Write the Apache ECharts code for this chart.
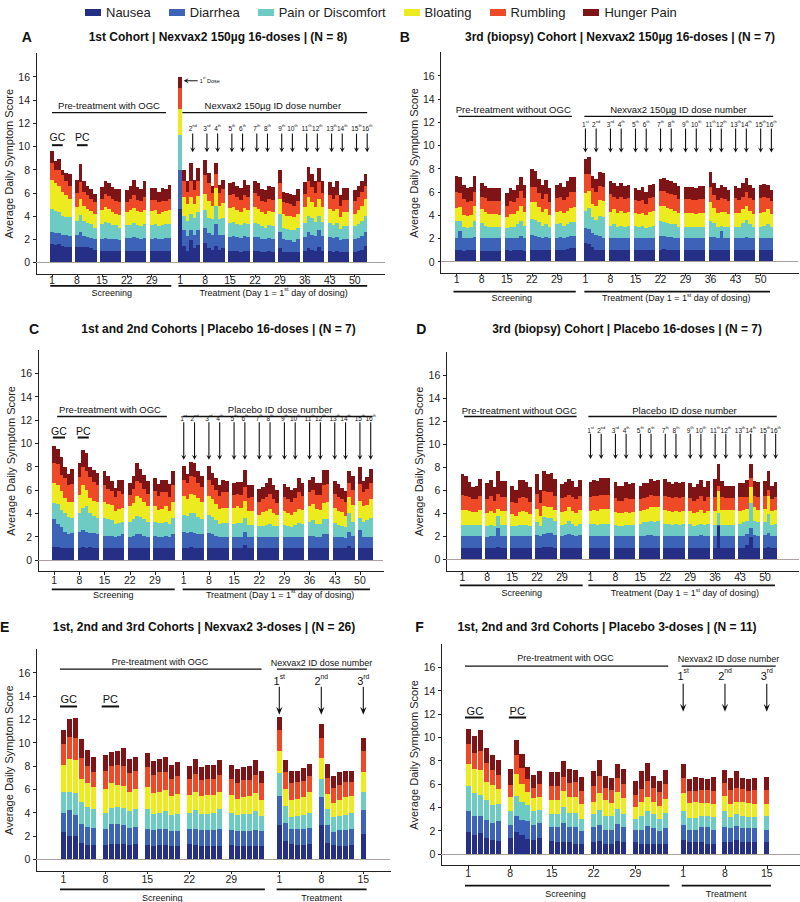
<!DOCTYPE html>
<html>
<head>
<meta charset="utf-8">
<script src="https://cdn.jsdelivr.net/npm/echarts@6/dist/echarts.min.js"></script>
<style>
html, body { margin: 0; padding: 0; background: #fff; }
#chart { width: 800px; height: 902px; }
/* bars drawn over each other: keep their edges on whole pixels so no colour bleeds at the sides */
#chart svg path { shape-rendering: crispEdges; }
/* annotation strokes and arrow heads stay smooth */
#chart svg path[stroke="#101010"], #chart svg path[fill="#101010"] { shape-rendering: geometricPrecision; }
</style>
</head>
<body>
<div id="chart"></div>
<script>
const FF = '"Liberation Sans", Arial, Helvetica, sans-serif';
const INK = '#101010';

const symptoms = ['Nausea', 'Diarrhea', 'Pain or Discomfort', 'Bloating', 'Rumbling', 'Hunger Pain'];
const colors = ['#262f86', '#3c63b8', '#6ecbc4', '#eceb1f', '#ee4a28', '#7f1416'];

// every array holds the upper edge of that symptom's band (running score),
// screening days 1-6, 8-13, 15-20, 22-27, 29-34 first, then the treatment days (7th days have no data)

// A: 1st cohort, Nexvax2 16 doses
const aNausea = [1.6,1.5,1.6,1.4,1.3,1.3, 1.3,1.3,1.3,1.3,1.2,1.1, 1.0,1.0,1.0,1.0,1.0,1.0, 1.0,1.0,1.0,1.0,1.0,1.0, 1.0,1.0,1.0,1.0,1.0,1.0,
  4.6,1.4,1.0,1.9,1.2,1.5, 1.7,1.2,1.1,1.4,1.1,1.2, 1.0,1.0,1.0,0.9,1.0,1.0, 1.0,1.0,0.9,0.9,1.0,0.9, 1.2,0.9,0.9,0.9,0.9,0.9, 1.0,1.2,1.1,1.0,1.3,1.0, 1.0,0.9,1.0,0.9,0.9,0.9, 0.9,1.0,1.1,1.4];
const aDiarrhea = [2.6,2.5,2.5,2.4,2.4,2.3, 2.4,2.6,2.3,2.2,2.1,2.0, 2.0,2.1,2.0,2.0,2.0,1.9, 2.1,2.1,2.2,2.1,2.0,2.1, 2.0,2.1,2.0,2.0,2.1,2.1,
  8.0,2.8,2.3,2.8,2.4,2.8, 3.0,2.5,2.4,3.3,2.4,2.4, 2.2,2.3,2.2,2.1,2.3,2.2, 2.2,2.2,2.0,2.0,2.1,2.0, 2.6,2.0,1.9,1.9,1.8,2.0, 2.2,2.6,2.4,2.3,2.8,2.3, 2.2,2.1,2.2,1.9,2.0,2.0, 2.0,2.1,2.3,2.6];
const aPain = [4.6,4.4,4.3,4.0,3.9,3.9, 3.6,4.1,3.6,3.4,3.3,3.0, 3.3,3.5,3.4,3.2,3.2,3.0, 3.2,3.2,3.4,3.2,3.1,3.3, 3.2,3.3,3.1,3.2,3.3,3.3,
  11.0,4.0,3.6,4.2,3.8,4.3, 4.5,3.8,3.7,4.9,3.7,3.8, 3.4,3.5,3.3,3.2,3.4,3.3, 3.4,3.3,3.1,3.0,3.2,3.1, 4.2,3.0,2.9,2.8,2.8,3.0, 3.4,4.0,3.8,3.5,4.0,3.5, 3.4,3.2,3.4,2.9,3.1,3.1, 3.1,3.3,3.6,4.0];
const aBloating = [7.1,6.8,6.6,6.1,5.8,5.5, 4.8,5.5,4.9,4.6,4.4,4.2, 4.5,4.8,4.6,4.3,4.2,4.1, 4.3,4.5,4.7,4.4,4.3,4.5, 4.4,4.5,4.2,4.3,4.4,4.5,
  13.2,5.6,5.0,5.6,5.0,5.7, 5.9,5.3,4.9,6.4,4.9,5.1, 4.7,4.8,4.5,4.3,4.7,4.5, 4.8,4.6,4.3,4.2,4.4,4.3, 5.5,4.2,4.0,4.0,3.9,4.2, 4.8,5.6,5.2,4.8,5.5,4.8, 4.6,4.4,4.6,3.9,4.3,4.3, 4.2,4.5,4.9,5.5];
const aRumbling = [8.6,8.0,8.0,7.5,7.0,6.6, 6.0,6.9,6.1,5.8,5.5,5.2, 5.5,5.9,5.7,5.5,5.3,5.2, 5.2,5.5,5.8,5.4,5.3,5.6, 5.4,5.4,5.2,5.3,5.3,5.5,
  15.0,7.0,6.1,7.0,6.2,7.0, 7.5,6.8,6.0,7.6,6.0,6.3, 5.8,5.9,5.6,5.4,5.8,5.6, 6.0,5.7,5.3,5.2,5.5,5.4, 6.8,5.2,5.1,5.0,4.9,5.3, 5.9,7.0,6.5,6.0,6.9,6.0, 5.8,5.5,5.8,4.9,5.4,5.4, 5.3,5.6,6.1,6.6];
const aHunger = [9.6,8.7,8.9,8.0,7.7,7.6, 7.1,8.5,7.0,6.6,6.3,5.9, 6.5,7.0,6.8,6.5,6.3,6.3, 6.2,6.6,7.1,6.5,6.3,7.0, 6.4,6.4,6.1,6.4,6.3,6.7,
  16.0,8.0,7.0,8.6,7.1,8.1, 8.8,7.7,6.6,8.6,6.7,7.1, 6.8,6.9,6.6,6.4,7.1,6.7, 7.0,6.8,6.3,6.2,6.6,6.5, 8.0,6.1,6.0,5.9,5.8,6.3, 6.9,8.2,7.6,7.0,8.1,7.0, 6.9,6.5,7.0,5.8,6.4,6.4, 6.2,6.6,7.0,7.6];

// B: 3rd (biopsy) cohort, Nexvax2 16 doses
const bNausea = [1.0,1.0,0.9,1.0,1.0,1.0, 0.9,0.9,0.9,0.9,0.9,0.9, 1.0,0.9,1.0,1.0,1.0,0.9, 1.0,1.0,1.0,1.0,1.0,1.0, 1.0,1.0,1.0,1.1,1.2,1.2,
  1.6,1.5,1.3,1.0,1.0,1.0, 1.0,1.0,1.0,1.0,1.0,1.0, 1.0,1.0,1.0,1.0,1.0,1.0, 1.0,1.1,1.0,1.0,1.0,1.0, 1.0,1.0,1.0,1.0,1.0,1.0, 1.0,1.0,1.0,1.0,1.0,1.0, 1.0,1.0,1.0,1.0,1.0,1.0, 1.0,1.0,1.0,1.0];
const bDiarrhea = [2.0,2.6,2.0,2.0,2.0,2.1, 2.0,2.0,2.0,2.0,2.0,2.0, 2.0,2.0,2.0,2.0,2.2,2.0, 2.3,2.2,2.1,2.0,2.1,2.0, 2.0,2.1,2.0,2.1,2.2,2.2,
  2.9,2.8,2.5,2.3,2.2,2.0, 2.0,2.0,2.0,2.0,2.0,2.0, 2.0,2.0,2.0,2.0,2.0,2.0, 2.2,2.2,2.1,2.1,2.0,2.0, 2.0,2.0,2.0,2.0,2.0,2.0, 2.1,2.1,2.0,2.6,2.0,2.0, 2.0,2.0,2.0,2.1,2.0,2.0, 2.0,2.0,2.0,2.0];
const bPain = [3.5,3.5,3.0,2.9,3.0,3.5, 3.3,3.1,3.0,3.0,3.0,3.0, 2.9,3.0,3.0,3.2,3.5,3.1, 3.7,3.6,3.4,3.1,3.2,3.0, 3.2,3.3,3.1,3.2,3.4,3.4,
  4.4,4.6,3.8,3.6,3.9,3.8, 3.1,3.2,3.0,3.1,3.0,3.1, 3.1,3.0,3.1,2.9,3.0,3.1, 3.5,3.4,3.3,3.2,3.2,3.0, 3.0,3.0,3.0,3.0,3.0,3.0, 3.5,3.3,3.0,3.1,3.0,3.0, 3.0,3.0,3.3,3.6,3.2,3.0, 3.0,3.1,3.2,3.0];
const bBloating = [4.6,4.7,4.0,3.9,4.0,4.8, 4.5,4.3,4.1,4.1,4.1,4.0, 3.8,4.1,4.1,4.4,4.8,4.3, 5.1,5.1,4.7,4.3,4.5,4.0, 4.3,4.4,4.2,4.4,4.6,4.7,
  5.9,6.1,5.0,4.8,5.3,5.2, 4.3,4.5,4.2,4.4,4.2,4.3, 4.2,4.1,4.2,4.0,4.3,4.4, 4.8,4.8,4.6,4.5,4.4,4.2, 4.2,4.2,4.2,4.1,4.2,4.2, 5.1,4.6,4.2,4.3,4.3,4.1, 4.2,4.2,4.5,4.8,4.4,4.1, 4.2,4.3,4.5,4.1];
const bRumbling = [6.0,5.9,5.4,5.1,5.2,6.0, 5.6,5.5,5.2,5.2,5.2,5.2, 4.8,5.2,5.1,5.5,6.1,5.5, 6.4,6.4,5.9,5.4,5.8,5.1, 5.5,5.6,5.3,5.6,6.0,6.0,
  7.5,7.5,6.3,6.0,6.5,6.4, 5.8,5.6,5.4,5.6,5.4,5.5, 5.3,5.2,5.3,5.0,5.5,5.6, 6.1,6.1,5.9,5.8,5.7,5.4, 5.4,5.4,5.3,5.3,5.4,5.4, 6.4,5.7,5.3,5.5,5.4,5.2, 5.5,5.3,5.6,6.0,5.5,5.3, 5.5,5.6,5.5,5.2];
const bHunger = [7.4,7.3,6.6,6.3,6.4,7.4, 6.8,6.5,6.3,6.3,6.3,6.3, 5.9,6.3,6.2,6.6,7.3,6.6, 8.0,7.8,7.1,6.6,7.0,6.3, 6.6,6.8,6.4,6.9,7.3,7.3,
  8.8,9.0,7.4,7.1,7.7,7.6, 6.9,6.8,6.5,6.8,6.5,6.6, 6.3,6.2,6.4,6.0,6.6,6.7, 7.1,7.2,7.0,6.9,6.8,6.5, 6.4,6.4,6.4,6.3,6.5,6.5, 7.7,6.8,6.3,6.6,6.4,6.2, 6.5,6.3,6.8,7.2,6.6,6.3, 6.6,6.7,6.6,6.2];

// C: 1st and 2nd cohorts, placebo 16 doses
const cNausea = [1.1,1.1,1.0,1.0,1.0,1.0, 1.0,1.1,1.0,1.1,1.0,1.0, 1.0,1.0,1.0,1.0,1.0,1.0, 1.0,1.0,1.0,1.0,1.0,1.0, 1.0,1.0,1.0,1.0,1.0,1.0,
  1.0,1.0,1.1,1.0,1.0,1.0, 1.0,1.0,1.0,1.0,1.0,1.0, 1.0,1.0,1.0,1.3,1.0,1.0, 1.0,1.0,1.0,1.0,1.0,1.0, 1.0,1.0,1.0,1.0,1.0,1.0, 1.0,1.0,1.0,1.0,1.0,1.0, 1.0,1.0,1.0,1.0,1.2,1.0, 1.0,1.0,1.0,1.0];
const cDiarrhea = [3.5,3.1,2.8,2.4,2.2,2.3, 2.4,2.6,2.4,2.3,2.3,2.2, 2.1,2.1,2.1,2.0,2.1,2.2, 2.0,2.1,2.2,2.2,2.1,2.0, 2.1,2.0,2.0,2.1,2.0,2.2,
  2.4,2.3,2.4,2.3,2.2,2.2, 2.3,2.2,2.1,2.0,2.0,2.0, 2.0,2.0,2.0,2.4,2.0,2.0, 2.0,2.0,2.0,2.0,2.0,2.0, 2.0,2.0,2.0,2.0,2.0,2.0, 2.1,2.1,2.0,2.0,2.2,2.2, 2.0,2.0,2.0,1.9,2.4,2.1, 2.6,2.0,2.0,2.0];
const cPain = [4.9,4.8,4.3,4.0,3.7,3.6, 4.0,4.5,4.6,4.0,3.8,3.6, 3.6,3.5,3.4,3.1,3.2,3.3, 3.3,3.5,3.8,3.7,3.5,3.3, 3.3,3.2,3.2,3.3,3.1,3.6,
  3.9,3.8,4.0,4.0,3.7,3.5, 3.9,3.7,3.4,3.1,3.2,3.2, 3.1,3.2,3.2,3.6,3.0,3.0, 2.9,2.9,3.0,3.1,2.9,2.9, 3.0,2.9,2.8,3.0,3.2,3.1, 3.3,3.4,3.1,3.1,3.5,3.5, 3.2,3.0,2.9,2.8,4.0,3.3, 3.6,3.3,3.4,3.6];
const cBloating = [6.6,6.4,5.9,5.3,5.0,5.0, 5.6,6.4,6.0,5.3,5.1,5.0, 5.0,4.8,4.7,4.2,4.4,4.5, 4.6,4.9,5.5,5.3,5.0,4.6, 4.6,4.3,4.4,4.6,4.2,5.0,
  5.5,5.2,5.7,5.6,5.3,5.0, 5.5,5.2,4.8,4.4,4.5,4.5, 4.5,4.6,4.5,5.1,4.2,4.2, 3.9,4.1,4.2,4.4,4.0,3.9, 4.2,4.0,3.9,4.1,4.4,4.3, 4.6,4.8,4.4,4.3,4.9,5.0, 4.5,4.2,4.1,3.8,5.4,4.7, 5.1,4.6,4.7,5.2];
const cRumbling = [8.3,8.2,7.3,7.0,6.4,6.5, 7.1,8.0,7.6,7.1,6.7,6.4, 6.4,6.1,5.9,5.4,5.9,5.7, 5.6,6.1,6.8,6.6,6.1,5.7, 5.9,5.5,5.8,5.8,5.4,6.4,
  6.9,6.6,7.2,7.1,6.6,6.3, 6.9,6.4,6.0,5.5,5.8,5.8, 5.6,5.7,5.6,6.3,5.3,5.4, 5.0,5.2,5.4,5.7,5.2,4.9, 5.4,5.2,5.0,5.3,5.8,5.5, 5.8,6.0,5.6,5.6,6.4,6.5, 5.7,5.4,5.2,5.0,6.6,6.0, 6.5,5.8,6.1,6.6];
const cHunger = [9.8,9.5,8.8,8.0,7.4,7.8, 8.3,9.4,9.2,8.0,7.7,7.5, 7.6,7.2,6.8,6.2,6.9,6.9, 6.6,7.2,8.3,7.8,7.3,6.8, 7.0,6.5,6.9,6.9,6.5,7.6,
  8.1,7.4,8.4,8.3,7.6,7.2, 8.1,7.5,7.0,6.4,6.9,6.8, 6.6,6.7,6.7,7.7,6.4,6.4, 6.1,6.3,6.6,7.0,6.4,6.0, 6.5,6.3,6.0,6.2,7.0,6.6, 6.9,7.1,6.6,6.6,7.7,7.7, 6.8,6.5,6.2,5.9,7.6,7.2, 8.0,6.8,7.1,7.8];

// D: 3rd (biopsy) cohort, placebo 16 doses
const dNausea = [1.0,1.0,1.0,1.0,1.0,1.0, 1.0,1.0,1.0,1.1,1.0,1.0, 1.0,1.0,1.0,1.0,1.0,1.0, 1.0,1.0,1.1,1.1,1.1,1.0, 1.0,1.0,1.0,1.0,1.0,1.0,
  1.0,1.0,1.0,1.0,1.0,1.0, 1.0,1.0,1.0,1.0,1.0,1.0, 1.0,1.0,1.0,1.0,1.0,1.0, 1.0,1.0,1.0,1.0,1.0,1.0, 1.0,1.0,1.0,1.0,1.0,1.0, 1.0,2.9,1.0,1.0,1.0,1.0, 1.0,1.0,1.2,1.9,1.0,1.0, 1.0,1.1,1.0,1.0];
const dDiarrhea = [2.0,2.0,2.0,2.0,2.0,2.0, 1.9,2.0,2.0,2.7,2.0,2.0, 2.0,2.0,2.0,2.0,2.0,2.0, 2.1,2.0,2.2,2.3,2.3,2.1, 2.0,2.1,2.2,2.1,2.0,2.1,
  2.0,2.0,2.0,2.0,2.0,2.0, 2.0,2.0,2.0,2.0,2.0,2.0, 2.0,2.0,2.1,2.1,2.0,2.0, 2.0,2.0,2.0,2.0,2.0,2.0, 2.0,2.0,2.0,2.1,2.0,2.0, 2.0,3.0,2.0,2.0,2.0,2.0, 2.0,2.0,2.2,2.7,2.1,2.0, 2.1,2.3,2.0,2.0];
const dPain = [3.0,3.0,3.0,3.0,3.0,3.0, 2.9,3.0,2.9,3.8,3.0,3.0, 2.9,2.9,3.0,3.0,3.0,2.9, 3.2,2.9,3.7,3.6,3.6,3.3, 3.0,3.1,3.3,3.1,2.9,3.1,
  3.1,3.1,3.0,3.1,3.1,3.1, 3.0,2.9,2.9,3.0,3.0,3.0, 3.1,3.2,3.2,3.3,3.2,3.3, 3.1,3.1,3.0,3.1,3.0,3.1, 3.1,2.9,3.0,3.1,3.0,3.1, 3.0,4.0,3.0,3.0,3.0,3.0, 3.1,3.2,3.3,4.9,3.3,3.2, 3.2,3.9,3.0,3.1];
const dBloating = [4.3,4.3,4.2,4.1,4.1,4.3, 4.0,4.2,4.0,4.4,4.2,4.2, 3.9,3.8,4.1,4.2,4.1,3.9, 4.4,3.8,4.6,4.5,4.5,4.3, 4.1,4.2,4.5,4.2,4.0,4.3,
  4.2,4.3,4.2,4.4,4.4,4.4, 4.1,4.0,4.0,4.1,4.0,4.1, 4.2,4.3,4.4,4.5,4.5,4.5, 4.3,4.2,4.1,4.2,4.1,4.2, 4.2,4.0,4.1,4.3,4.0,4.2, 4.2,5.9,4.3,4.3,4.3,4.3, 4.2,4.3,4.4,6.3,4.5,4.3, 4.4,5.5,4.2,4.3];
const dRumbling = [5.6,5.5,5.4,5.2,5.2,5.5, 5.2,5.5,5.1,5.7,5.4,5.4, 5.0,4.9,5.3,5.4,5.3,5.0, 5.7,4.9,5.9,5.8,5.8,5.5, 5.3,5.4,5.6,5.4,5.2,5.5,
  5.4,5.5,5.5,5.6,5.6,5.6, 5.3,5.1,5.1,5.3,5.2,5.2, 5.2,5.3,5.4,5.6,5.5,5.5, 5.5,5.4,5.3,5.4,5.3,5.4, 5.3,5.1,5.2,5.5,5.1,5.4, 5.4,6.4,5.4,5.3,5.3,5.3, 5.4,5.4,5.4,7.1,5.5,5.4, 5.5,6.0,5.2,5.4];
const dHunger = [7.4,7.2,6.7,6.3,6.4,7.0, 6.6,6.9,6.3,7.7,6.8,6.8, 6.4,6.0,6.9,6.9,6.7,6.3, 7.4,6.0,7.7,7.4,7.5,7.0, 6.5,6.7,7.0,6.8,6.3,6.9,
  6.7,6.9,6.8,7.1,7.1,7.1, 6.7,6.4,6.4,6.7,6.5,6.6, 6.4,6.6,6.6,7.0,6.8,6.9, 7.0,6.7,6.5,6.7,6.6,6.7, 6.6,6.3,6.5,6.9,6.3,6.8, 7.0,8.3,6.8,6.4,6.4,6.4, 6.6,6.6,6.9,8.3,6.8,6.7, 6.8,7.7,6.4,6.7];

// E: all cohorts, Nexvax2 3 doses (treatment days 1-6, 8-13, 15)
const eNausea = [2.3,2.0,2.0,1.4,1.2,1.2, 1.2,1.3,1.3,1.3,1.2,1.3, 1.2,1.1,1.2,1.2,1.1,1.1, 1.3,1.2,1.1,1.1,1.1,1.1, 1.2,1.1,1.1,1.1,1.1,1.1,
  2.9,1.6,1.3,1.2,1.2,1.3, 2.9,1.4,1.2,1.1,1.1,1.2, 2.2];
const eDiarrhea = [4.0,4.2,3.8,3.0,2.8,2.7, 2.6,3.0,3.0,2.9,2.7,2.8, 2.6,2.5,2.6,2.6,2.4,2.4, 2.6,2.6,2.5,2.5,2.5,2.6, 2.5,2.4,2.4,2.4,2.5,2.4,
  5.4,3.1,2.6,2.6,2.6,2.7, 5.3,2.9,2.3,2.5,2.5,2.6, 4.2];
const ePain = [5.8,5.8,5.7,4.9,4.5,4.3, 4.0,4.4,4.5,4.4,4.1,4.3, 4.3,3.9,4.0,4.1,3.8,3.9, 4.0,4.2,3.9,3.9,4.0,4.3, 4.0,3.8,3.9,3.9,4.1,3.7,
  7.4,4.6,3.6,3.7,3.8,4.0, 6.9,4.3,3.6,3.7,3.8,4.0, 5.8];
const eBloating = [8.1,8.6,8.5,6.9,6.5,6.2, 6.0,6.5,6.4,6.3,5.8,6.0, 6.2,5.7,5.8,5.9,5.4,5.6, 5.5,5.8,5.4,5.5,5.5,5.8, 5.5,5.2,5.3,5.4,5.7,5.1,
  9.3,6.0,5.1,5.2,5.3,5.8, 8.7,5.6,4.8,5.1,5.3,5.4, 7.5];
const eRumbling = [9.9,10.5,10.4,8.7,8.0,7.5, 7.6,8.0,8.1,8.0,7.4,7.6, 7.9,7.2,7.5,7.5,6.9,7.1, 6.9,7.3,6.8,6.9,6.9,7.2, 6.9,6.5,6.8,6.8,7.2,6.5,
  11.1,7.5,6.5,6.6,6.7,7.1, 10.4,7.0,6.1,6.4,6.6,6.6, 9.3];
const eHunger = [11.1,12.0,12.1,10.3,9.4,8.8, 8.9,9.2,9.3,9.5,8.6,8.8, 9.1,8.4,8.6,8.8,8.1,8.3, 8.0,8.6,7.9,8.1,8.1,8.5, 8.1,7.7,7.9,8.0,8.5,7.6,
  12.2,8.5,7.6,7.6,7.8,8.2, 11.6,8.2,7.1,7.5,7.6,7.6, 10.4];

// F: all cohorts, placebo 3 doses
const fNausea = [1.9,1.6,1.8,1.4,1.2,1.1, 1.4,1.9,1.6,1.3,1.2,1.4, 1.1,1.0,1.0,1.0,0.9,0.9, 1.0,1.1,0.9,0.9,1.1,1.0, 1.0,0.9,0.9,0.9,0.9,0.9,
  1.2,1.0,1.0,1.0,0.9,0.9, 1.0,1.0,1.2,1.0,1.0,1.0, 1.0];
const fDiarrhea = [3.7,3.3,3.3,2.9,2.7,2.8, 2.5,3.3,2.9,2.8,2.5,2.7, 2.3,2.3,2.7,2.3,2.3,2.0, 2.3,2.5,2.1,2.1,2.6,2.3, 2.1,2.1,2.4,2.2,2.0,2.2,
  2.5,2.1,2.1,2.3,2.3,2.1, 2.3,2.2,2.4,2.2,2.2,2.2, 2.1];
const fPain = [5.8,5.2,5.1,4.6,4.2,4.3, 3.7,5.0,4.5,4.2,3.7,3.8, 3.4,3.4,4.0,3.5,3.5,3.0, 3.4,3.8,3.3,3.3,3.9,3.4, 3.0,3.3,3.7,3.4,3.0,3.5,
  3.7,3.1,3.1,3.3,3.3,3.2, 3.7,3.2,3.4,3.3,3.2,3.2, 3.3];
const fBloating = [7.7,7.3,7.2,6.2,5.9,5.6, 4.9,6.9,6.0,5.3,4.8,4.9, 4.6,4.6,5.4,4.9,4.9,4.3, 4.5,5.2,4.6,4.4,5.3,4.8, 4.0,4.5,4.9,4.5,4.1,4.7,
  5.2,4.4,4.5,4.4,4.4,4.3, 5.0,4.3,4.5,4.5,4.4,4.3, 4.3];
const fRumbling = [9.4,8.7,8.8,7.8,7.2,6.8, 5.9,8.5,7.4,6.4,5.7,6.0, 5.8,5.8,6.6,6.1,6.2,5.4, 5.8,6.7,5.7,5.5,6.5,6.0, 5.1,5.6,6.3,5.7,5.3,6.0,
  6.5,5.4,5.4,5.5,5.5,5.4, 6.1,5.5,5.7,5.6,5.4,5.5, 5.5];
const fHunger = [10.7,10.1,10.6,9.1,8.5,8.1, 7.3,9.8,8.6,7.5,6.8,7.1, 7.0,7.0,8.0,7.3,7.2,6.6, 7.1,8.1,6.7,6.5,7.7,7.3, 6.3,7.1,7.8,6.7,6.3,7.2,
  7.7,6.4,6.6,6.5,6.4,6.6, 7.2,6.5,7.1,6.5,6.4,6.5, 6.6];

const yTicks = [0, 2, 4, 6, 8, 10, 12, 14, 16];
const doses16 = [1, 4, 8, 11, 15, 18, 22, 25, 29, 32, 36, 39, 43, 46, 50, 53];
const doses3 = [1, 8, 15];

const panels = [
  { key: 'A', title: '1st Cohort | Nexvax2 150µg 16-doses | (N = 8)', tx: 218, ty: 36.7, lx: 26.7,
    layers: [aNausea, aDiarrhea, aPain, aBloating, aRumbling, aHunger], treatDays: 53,
    left: 36, top: 53.5, width: 349, height: 220.5, padL: 4, padR: 5, gap: '0%', nameGap: 18, labelMargin: 0,
    lines: [['S', 1, 'S', 33, 12.9, 1.3], ['T', 1.6, 'T', 53.5, 12.9, 1.3], ['S', 1, 'S', 4, 10.1, 2], ['S', 8, 'S', 11, 10.1, 2]],
    texts: [['S', 17, 13.5, 'Pre-treatment with OGC', 9.5], ['T', 27, 13.5, 'Nexvax2 150µg ID dose number', 9.5],
            ['S', 2.5, 10.8, 'GC', 10.5], ['S', 9.5, 10.8, 'PC', 10.5]],
    doses: { days: doses16.slice(1), from: 2, off: 0.5, lab: 11.55, top: 11.1, tip: 9.5, size: 6.5, hw: 2.6, hl: 5 },
    firstDose: 15.65,
    under: { line: 11.8, text: 18.8, scr: [0.5, 34.5, 17.8], trt: [0.5, 53.5, 27.2], long: true } },
  { key: 'B', title: '3rd (biopsy) Cohort | Nexvax2 150µg 16-doses | (N = 7)', tx: 620, ty: 36.7, lx: 404.7,
    layers: [bNausea, bDiarrhea, bPain, bBloating, bRumbling, bHunger], treatDays: 53,
    left: 440.6, top: 52.4, width: 357.6, height: 220.9, padL: 4, padR: 7, gap: '0%', nameGap: 19.5, labelMargin: 0,
    lines: [['S', 1.5, 'S', 33.2, 12.5, 1.3], ['T', 0.7, 'T', 53.5, 12.5, 1.3]],
    texts: [['S', 16.8, 13.1, 'Pre-treatment without OGC', 9.5], ['T', 27, 13.1, 'Nexvax2 150µg ID dose number', 9.5]],
    doses: { days: doses16, from: 1, off: 0, lab: 11.8, top: 11.45, tip: 9.4, size: 6.5, hw: 2.6, hl: 5 },
    under: { line: 18.4, text: 25, scr: [0.1, 34.3, 16.4], trt: [0.7, 52.6, 26.4], long: true } },
  { key: 'C', title: '1st and 2nd Cohorts | Placebo 16-doses | (N = 7)', tx: 218.5, ty: 328.7, lx: 34,
    layers: [cNausea, cDiarrhea, cPain, cBloating, cRumbling, cHunger], treatDays: 53,
    left: 38.1, top: 350, width: 345.2, height: 221.7, padL: 4, padR: 3, gap: '0%', nameGap: 17, labelMargin: 2.5,
    lines: [['S', 1.8, 'S', 32.3, 12.3, 1.3], ['T', 0.7, 'T', 53.5, 12.3, 1.3], ['S', 0.6, 'S', 4, 10.5, 2], ['S', 7.5, 'S', 10.6, 10.5, 2]],
    texts: [['S', 16.5, 12.9, 'Pre-treatment with OGC', 9.5], ['T', 27.8, 12.9, 'Placebo ID dose number', 9.5],
            ['S', 2.3, 11.1, 'GC', 10.5], ['S', 9.1, 11.1, 'PC', 10.5]],
    doses: { days: doses16, from: 1, off: 0, lab: 12.1, top: 11.8, tip: 8.6, size: 6.5, hw: 2.6, hl: 5 },
    under: { line: 17.6, text: 23.5, scr: [0.3, 34.5, 17.4], trt: [0.7, 52.8, 27.8], long: true } },
  { key: 'D', title: '3rd (biopsy) Cohort | Placebo 16-doses | (N = 7)', tx: 627, ty: 328.7, lx: 421.3,
    layers: [dNausea, dDiarrhea, dPain, dBloating, dRumbling, dHunger], treatDays: 53,
    left: 446.3, top: 352, width: 352.5, height: 218.8, padL: 4, padR: 6, gap: '0%', nameGap: 21, labelMargin: 0.8,
    lines: [['S', 1.5, 'S', 33.1, 12.4, 1.3], ['T', 0.4, 'T', 53.3, 12.4, 1.3]],
    texts: [['S', 17, 12.95, 'Pre-treatment without OGC', 9.5], ['T', 27.4, 12.95, 'Placebo ID dose number', 9.5]],
    doses: { days: doses16, from: 1, off: 0, lab: 11.2, top: 10.9, tip: 8.7, size: 6.5, hw: 2.6, hl: 5 },
    under: { line: 14.6, text: 22.5, scr: [0.3, 34.8, 17.7], trt: [0.4, 52.8, 27.5], long: true } },
  { key: 'E', title: '1st, 2nd and 3rd Cohorts | Nexvax2 3-doses | (N = 26)', tx: 204, ty: 626.5, lx: 4.7,
    layers: [eNausea, eDiarrhea, ePain, eBloating, eRumbling, eHunger], treatDays: 15,
    left: 36.3, top: 649.3, width: 354, height: 221.7, padL: 4, padR: 4, gap: '16%', nameGap: 18, labelMargin: 2.2,
    lines: [['S', 0.45, 'S', 34.05, 16.3, 1.3], ['T', 0.6, 'T', 15.6, 16.3, 1.3], ['S', 0.45, 'S', 3.3, 13.1, 2], ['S', 7.4, 'S', 10.3, 13.1, 2]],
    texts: [['S', 17.1, 16.9, 'Pre-treatment with OGC', 9], ['T', 8.05, 16.85, 'Nexvax2 ID dose number', 9],
            ['S', 1.9, 13.7, 'GC', 11], ['S', 8.85, 13.7, 'PC', 11]],
    doses: { days: doses3, from: 1, off: 0, lab: 15.3, top: 14.8, tip: 12.4, size: 11, hw: 3.2, hl: 8 },
    under: { line: 18.3, text: 27, scr: [0.45, 34.6, 17.5], trt: [0.55, 15.55, 8.05], long: false } },
  { key: 'F', title: '1st, 2nd and 3rd Cohorts | Placebo 3-doses | (N = 11)', tx: 607, ty: 626.7, lx: 419.5,
    layers: [fNausea, fDiarrhea, fPain, fBloating, fRumbling, fHunger], treatDays: 15,
    left: 441.4, top: 644, width: 358.2, height: 221.7, padL: 4, padR: 5, gap: '16%', nameGap: 19.5, labelMargin: 1.9,
    lines: [['S', 0.45, 'S', 34.5, 16.1, 1.3], ['T', 0.75, 'T', 16.5, 16.1, 1.3], ['S', 0.45, 'S', 3.6, 11.7, 2], ['S', 7.8, 'S', 10.7, 11.7, 2]],
    texts: [['S', 17.3, 16.8, 'Pre-treatment with OGC', 9], ['T', 8.6, 16.7, 'Nexvax2 ID dose number', 9],
            ['S', 2.1, 12.3, 'GC', 11], ['S', 9.2, 12.3, 'PC', 11]],
    doses: { days: doses3, from: 1, off: 0, lab: 15.3, top: 14.6, tip: 12.2, size: 11, hw: 3.2, hl: 8 },
    under: { line: 20, text: 28.6, scr: [0.45, 34.7, 17.3], trt: [0.75, 15.7, 8.2], long: false } }
];

// slot names: P = padding, S = screening day, T = treatment day
function slotNames(p) {
  const names = [];
  for (let i = 0; i < p.padL; i++) names.push('P' + i);
  for (let d = 1; d <= 36; d++) names.push('S' + d);
  for (let d = 1; d <= p.treatDays; d++) names.push('T' + d);
  for (let i = 0; i < p.padR; i++) names.push('Q' + i);
  return names;
}

function slotLabel(name) {
  const d = +name.slice(1);
  if (name[0] === 'S' && d <= 29 && (d - 1) % 7 === 0) return String(d);
  if (name[0] === 'T' && (d - 1) % 7 === 0) return String(d);
  return '';
}

function spread(values, p) {
  const out = new Array(p.padL).fill(null);
  let k = 0;
  for (let d = 1; d <= 36; d++) out.push(d % 7 !== 0 && d <= 34 ? values[k++] : null);
  for (let d = 1; d <= p.treatDays; d++) out.push(d % 7 !== 0 ? values[k++] : null);
  for (let i = 0; i < p.padR; i++) out.push(null);
  return out;
}

const grids = [], xAxes = [], yAxes = [], series = [];
panels.forEach((p, i) => {
  grids.push({ left: p.left, top: p.top, width: p.width, height: p.height, containLabel: false, outerBoundsMode: 'none' });
  xAxes.push({
    type: 'category', gridIndex: i, data: slotNames(p), position: 'bottom',
    axisLine: { onZero: false, lineStyle: { color: '#222', width: 1 } },
    axisTick: { show: true, alignWithLabel: true, length: 3, interval: (idx, val) => slotLabel(val) !== '', lineStyle: { color: '#222' } },
    axisLabel: { interval: 0, formatter: v => slotLabel(v), fontSize: 10.5, color: '#222', fontFamily: FF, margin: p.labelMargin },
    splitLine: { show: false }
  });
  yAxes.push({
    type: 'value', gridIndex: i, min: -1, max: 18,
    name: 'Average Daily Symptom Score', nameLocation: 'middle', nameGap: p.nameGap,
    nameTextStyle: { fontSize: 11, color: '#222', fontFamily: FF },
    axisLine: { show: true, lineStyle: { color: '#222', width: 1 } },
    axisTick: { show: true, length: 3, customValues: yTicks, lineStyle: { color: '#222' } },
    axisLabel: { customValues: yTicks, fontSize: 10.5, color: '#222', fontFamily: FF, margin: 6 },
    splitLine: { show: false }
  });
  // the tallest band (Hunger Pain) is drawn first, each lower band over it
  for (let k = 5; k >= 0; k--) {
    const s = {
      type: 'bar', name: symptoms[k], xAxisIndex: i, yAxisIndex: i,
      data: spread(p.layers[k], p), barGap: '-100%', barCategoryGap: p.gap,
      itemStyle: { color: colors[k] }, silent: true
    };
    if (k === 5) {
      s.markLine = { silent: true, symbol: 'none', label: { show: false },
        lineStyle: { color: '#ab9f9f', width: 1, type: 'solid' }, data: [{ yAxis: 0 }] };
    }
    series.push(s);
  }
});

const chart = echarts.init(document.getElementById('chart'), null, { renderer: 'svg' });
chart.setOption({
  animation: false,
  color: colors,
  legend: {
    data: symptoms, left: 80, top: 1, icon: 'rect', itemWidth: 16, itemHeight: 7, itemGap: 18,
    selectedMode: false, textStyle: { fontSize: 13, color: '#222', fontFamily: FF }
  },
  grid: grids, xAxis: xAxes, yAxis: yAxes, series: series
});

// ---- annotations, placed with the axes' own scales ----
function suffix(n) {
  if (n % 10 === 1 && n !== 11) return 'st';
  if (n % 10 === 2 && n !== 12) return 'nd';
  if (n % 10 === 3 && n !== 13) return 'rd';
  return 'th';
}
function txt(x, y, text, size, weight, align) {
  return { type: 'text', x: x, y: y, silent: true, z: 100,
    style: { text: text, font: (weight || 'normal') + ' ' + size + 'px ' + FF, fill: '#111', align: align || 'center', verticalAlign: 'middle' } };
}
function richTxt(x, y, text, size, align) {
  return { type: 'text', x: x, y: y, silent: true, z: 100,
    style: { text: text, align: align || 'center', verticalAlign: 'middle', fill: '#111',
      rich: {
        n: { font: size + 'px ' + FF, lineHeight: size * 1.5, fill: '#111' },
        s: { font: (size * 0.62).toFixed(2) + 'px ' + FF, verticalAlign: 'top', fill: '#111' }
      } } };
}
function seg(x1, y1, x2, y2, w) {
  return { type: 'line', silent: true, z: 100, shape: { x1: x1, y1: y1, x2: x2, y2: y2 }, style: { stroke: INK, lineWidth: w } };
}
function head(pts) {
  return { type: 'polygon', silent: true, z: 100, shape: { points: pts }, style: { fill: INK } };
}

function buildGraphics() {
  const g = [];
  panels.forEach((p, i) => {
    const a = chart.convertToPixel({ gridIndex: i }, [0, 0]);
    const b = chart.convertToPixel({ gridIndex: i }, [1, 1]);
    const sx = b[0] - a[0], sy = b[1] - a[1];
    const X = (ph, d) => a[0] + sx * (p.padL + (ph === 'T' ? 35 + d : d - 1));
    const Y = v => a[1] + sy * v;
    const bottom = Y(-1);

    g.push(txt(p.lx, p.ty, p.key, 14, 'bold'));
    g.push(txt(p.tx, p.ty, p.title, 12, 'bold'));

    p.lines.forEach(l => g.push(seg(X(l[0], l[1]), Y(l[4]), X(l[2], l[3]), Y(l[4]), l[5])));
    p.texts.forEach(t => g.push(txt(X(t[0], t[1]), Y(t[2]), t[3], t[4])));

    const ds = p.doses;
    ds.days.forEach((d, j) => {
      const x = X('T', d + ds.off);
      const n = ds.from + j;
      g.push(richTxt(x, Y(ds.lab), '{n|' + n + '}{s|' + suffix(n) + '}', ds.size));
      const yTip = Y(ds.tip);
      g.push(seg(x, Y(ds.top), x, yTip - ds.hl * 0.5, 1.1));
      g.push(head([[x, yTip], [x - ds.hw, yTip - ds.hl], [x, yTip - ds.hl * 0.6], [x + ds.hw, yTip - ds.hl]]));
    });

    if (p.firstDose) {
      const y = Y(p.firstDose);
      const x0 = X('T', 1) + sx * 0.95, x1 = X('T', 1) + sx * 4.9;
      g.push(seg(x0 + 3, y, x1, y, 1));
      g.push(head([[x0, y], [x0 + 5, y - 2.4], [x0 + 3, y], [x0 + 5, y + 2.4]]));
      g.push(richTxt(x1 + 2, y, '{n|1}{s|st}{n| Dose}', 5.5, 'left'));
    }

    const u = p.under;
    g.push(seg(X('S', u.scr[0]), bottom + u.line, X('S', u.scr[1]), bottom + u.line, 1.8));
    g.push(txt(X('S', u.scr[2]), bottom + u.text, 'Screening', 9));
    g.push(seg(X('T', u.trt[0]), bottom + u.line, X('T', u.trt[1]), bottom + u.line, 1.8));
    if (u.long) {
      g.push(richTxt(X('T', u.trt[2]), bottom + u.text, '{n|Treatment (Day 1 = 1}{s|st}{n| day of dosing)}', 9));
    } else {
      g.push(txt(X('T', u.trt[2]), bottom + u.text, 'Treatment', 9));
    }
  });
  return g;
}

chart.setOption({ graphic: buildGraphics() });
</script>
</body>
</html>
